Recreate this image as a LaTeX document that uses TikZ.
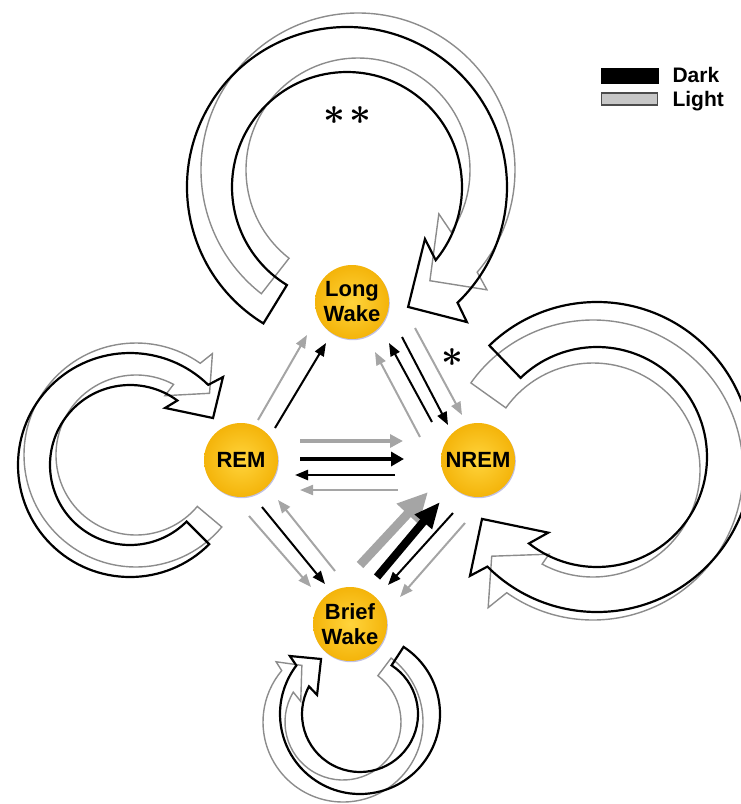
\documentclass[tikz,border=0pt]{standalone}
\usepackage{graphicx}
\usepackage{fontspec}
\setmainfont{Liberation Sans}
\usetikzlibrary{arrows.meta,shadows}

\definecolor{gold}{RGB}{244,180,10}
\definecolor{goldlight}{RGB}{255,212,60}
\definecolor{lightarr}{RGB}{165,165,165}
\definecolor{loopgray}{RGB}{140,140,140}

\newcommand{\bigast}{\scalebox{3.8}{\boldmath$\ast$}}

\tikzset{
  sleepstate/.style={circle, minimum size=74pt, inner sep=0pt,
    shading=radial, inner color=goldlight, outer color=gold,
    drop shadow={shadow xshift=0.8pt, shadow yshift=-1.2pt, opacity=0.35, fill=blue!40!gray},
    font=\fontsize{22}{25}\selectfont\bfseries, align=center, text=black},
  darkthin/.style={draw=black, line width=2pt, -{Triangle[length=13pt,width=10pt]}},
  lightthin/.style={draw=lightarr, line width=2pt, -{Triangle[length=13pt,width=10pt]}},
  darkmid/.style={draw=black, line width=3.3pt, -{Triangle[length=13pt,width=14pt]}},
  lightmid/.style={draw=lightarr, line width=4pt, -{Triangle[length=13pt,width=13pt]}},
  darkthick/.style={draw=black, line width=8pt, -{Triangle[length=26pt,width=21pt]}},
  lightthick/.style={draw=lightarr, line width=9pt, -{Triangle[length=30pt,width=28pt]}},
  loopdark/.style={draw=black, line width=2.2pt, line join=miter},
  looplight/.style={draw=loopgray, line width=1.4pt, line join=miter},
  keytext/.style={anchor=base west, font=\fontsize{21}{21}\selectfont\bfseries},
  starmark/.style={inner sep=0pt}
}

\begin{document}
\begin{tikzpicture}[x=1pt, y=1pt]
\useasboundingbox (0,0) rectangle (741,-804);
\clip (0,0) rectangle (741,-804);

% ---- self loops: block arcs with arrow heads (light under dark) ----
% Long Wake loop
\begin{scope}[shift={(358,-170)}]
  \draw[looplight] (232:157pt) arc[start angle=232, end angle=-40.6, radius=157pt]
    -- (-42.9:176pt) -- (-57:132pt) -- (-28.5:92pt) -- (-33.7:112pt)
    arc[start angle=-33.7, end angle=232, radius=112pt] -- cycle;
\end{scope}
\begin{scope}[shift={(347,-187)}]
  \draw[loopdark] (238.5:160pt) arc[start angle=238.5, end angle=-46.3, radius=160pt]
    -- (-48.4:180.6pt) -- (-63:134.6pt) -- (-33.7:93.7pt) -- (-39.5:115pt)
    arc[start angle=-39.5, end angle=238.5, radius=115pt] -- cycle;
\end{scope}

% REM loop
\begin{scope}[shift={(136,-455)}]
  \draw[looplight] (-40:112pt) arc[start angle=-40, end angle=-305, radius=112pt]
    -- (-307:127pt) -- (-320:96pt) -- (-296:66pt) -- (-298:80pt)
    arc[start angle=-298, end angle=-40, radius=80pt] -- cycle;
\end{scope}
\begin{scope}[shift={(130,-465)}]
  \draw[loopdark] (-45:112pt) arc[start angle=-45, end angle=-314.3, radius=112pt]
    -- (-316.6:128pt) -- (-330.5:95.4pt) -- (-301.6:67pt) -- (-306.3:80pt)
    arc[start angle=-306.3, end angle=-45, radius=80pt] -- cycle;
\end{scope}

% NREM loop
\begin{scope}[shift={(593,-470)}]
  \draw[looplight] (144.5:150pt) arc[start angle=144.5, end angle=-125.1, radius=150pt]
    -- (-127.3:173pt) -- (-139.6:133pt) -- (-117.6:95pt) -- (-118.4:107pt)
    arc[start angle=-118.4, end angle=144.5, radius=107pt] -- cycle;
\end{scope}
\begin{scope}[shift={(597,-457)}]
  \draw[loopdark] (134:155pt) arc[start angle=134, end angle=-135, radius=155pt]
    -- (-136.9:174pt) -- (-151.7:130.6pt) -- (-122.8:90pt) -- (-128.2:110pt)
    arc[start angle=-128.2, end angle=134, radius=110pt] -- cycle;
\end{scope}

% Brief Wake loop
\begin{scope}[shift={(343,-722)}]
  \draw[looplight] (53:80pt) arc[start angle=53, end angle=-220, radius=80pt]
    -- (-222:90pt) -- (-234:70pt) -- (-206:47pt) -- (-211:58pt)
    arc[start angle=-211, end angle=53, radius=58pt] -- cycle;
\end{scope}
\begin{scope}[shift={(360,-714)}]
  \draw[loopdark] (57:80pt) arc[start angle=57, end angle=-217.3, radius=80pt]
    -- (-219.6:91pt) -- (-234.7:67.4pt) -- (-204:47pt) -- (-208.4:58pt)
    arc[start angle=-208.4, end angle=57, radius=58pt] -- cycle;
\end{scope}

% ---- states ----
\node[sleepstate] (lw)   at (352,-302) {Long\\Wake};
\node[sleepstate] (rem)  at (241,-460) {REM};
\node[sleepstate] (nrem) at (478,-460) {NREM};
\node[sleepstate] (bw)   at (350,-624) {Brief\\Wake};

% ---- transitions (end points offset from the state centres) ----
% REM -> Long Wake
\draw[lightthin] ([shift={(17,40)}]rem.center) -- ([shift={(-45,-33)}]lw.center);
\draw[darkthin]  ([shift={(34,32)}]rem.center) -- ([shift={(-26,-41)}]lw.center);
% Long Wake <-> NREM
\draw[lightthin] ([shift={(-58,23)}]nrem.center) -- ([shift={(23,-50)}]lw.center);
\draw[darkthin]  ([shift={(-46,38)}]nrem.center) -- ([shift={(37,-41)}]lw.center);
\draw[darkthin]  ([shift={(50,-35)}]lw.center) -- ([shift={(-30,35)}]nrem.center);
\draw[lightthin] ([shift={(63,-26)}]lw.center) -- ([shift={(-16,45)}]nrem.center);
% REM <-> NREM
\draw[lightmid] ([shift={(59,19)}]rem.center) -- ([shift={(-75,19)}]nrem.center);
\draw[darkmid]  ([shift={(59,1)}]rem.center) -- ([shift={(-74,1)}]nrem.center);
\draw[darkthin, line width=2.3pt] ([shift={(-83,-15)}]nrem.center) -- ([shift={(54,-15)}]rem.center);
\draw[lightthin] ([shift={(-80,-30)}]nrem.center) -- ([shift={(59,-30)}]rem.center);
% REM <-> Brief Wake
\draw[darkthin]  ([shift={(21,-47)}]rem.center) -- ([shift={(-25,40)}]bw.center);
\draw[lightthin] ([shift={(8,-56)}]rem.center) -- ([shift={(-39,37)}]bw.center);
\draw[lightthin] ([shift={(-15,53)}]bw.center) -- ([shift={(37,-40)}]rem.center);
% Brief Wake <-> NREM
\draw[lightthick] ([shift={(10,59)}]bw.center) -- ([shift={(-50,-32)}]nrem.center);
\draw[darkthick]  ([shift={(27,47)}]bw.center) -- ([shift={(-38,-42)}]nrem.center);
\draw[darkthin]   ([shift={(-25,-53)}]nrem.center) -- ([shift={(38,39)}]bw.center);
\draw[lightthin]  ([shift={(-13,-63)}]nrem.center) -- ([shift={(50,27)}]bw.center);

% ---- significance marks ----
\node[starmark] (sigloop) at (347,-116) {\bigast\kern4pt\bigast};
\node[starmark] (sigtrans) at (452,-358) {\bigast};

% ---- key ----
\node[draw=black, fill=black, line width=1pt, minimum width=57pt, minimum height=15pt, inner sep=0pt] (darkkey) at (629.5,-75.5) {};
\node[draw=black!70, fill=black!22, line width=1.5pt, minimum width=56pt, minimum height=12pt, inner sep=0pt] (lightkey) at (629.5,-99) {};
\node[keytext] (darklabel) at (669,-82) {Dark};
\node[keytext] (lightlabel) at (669,-106) {Light};
\end{tikzpicture}
\end{document}
